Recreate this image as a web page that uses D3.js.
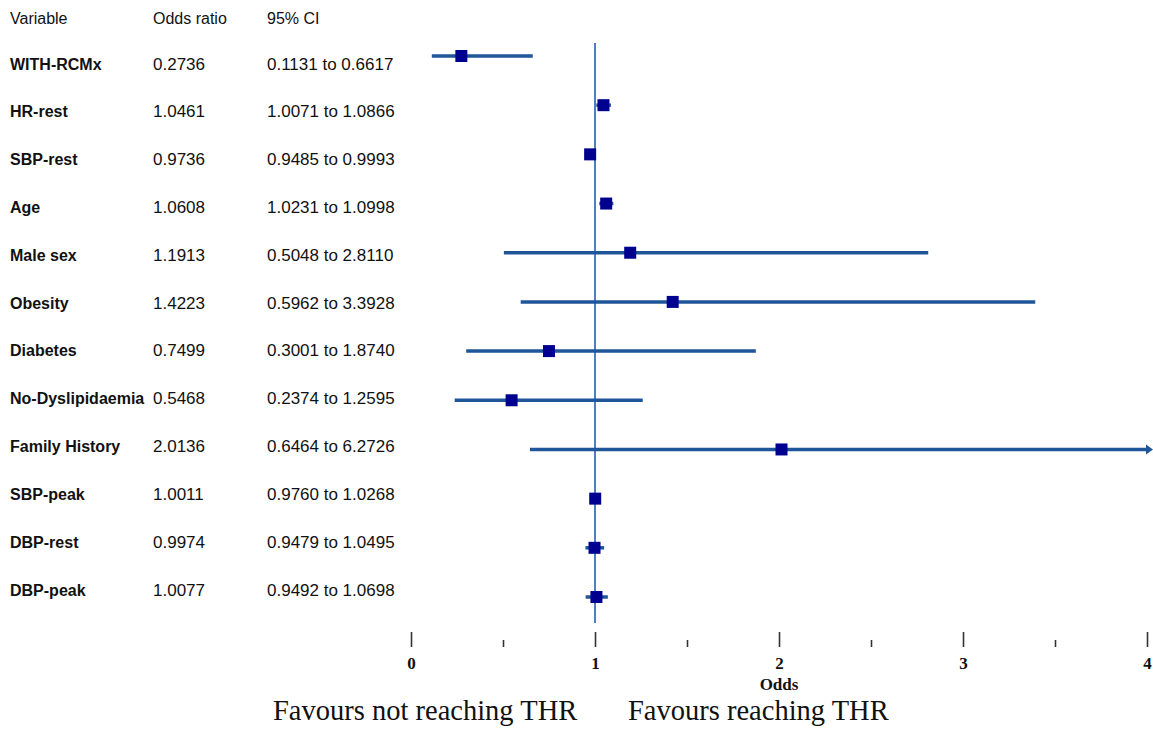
<!DOCTYPE html>
<html>
<head>
<meta charset="utf-8">
<script src="https://cdn.jsdelivr.net/npm/d3@7"></script>
<style>
  html, body { margin: 0; padding: 0; background: #fff; }
  svg { display: block; }
</style>
</head>
<body>
<svg id="chart" width="1153" height="738"></svg>
<script>
const variables = ["WITH-RCMx", "HR-rest", "SBP-rest", "Age", "Male sex", "Obesity", "Diabetes",
  "No-Dyslipidaemia", "Family History", "SBP-peak", "DBP-rest", "DBP-peak"];
const oddsRatio = [0.2736, 1.0461, 0.9736, 1.0608, 1.1913, 1.4223, 0.7499, 0.5468, 2.0136, 1.0011, 0.9974, 1.0077];
const ciLow  = [0.1131, 1.0071, 0.9485, 1.0231, 0.5048, 0.5962, 0.3001, 0.2374, 0.6464, 0.9760, 0.9479, 0.9492];
const ciHigh = [0.6617, 1.0866, 0.9993, 1.0998, 2.8110, 3.3928, 1.8740, 1.2595, 6.2726, 1.0268, 1.0495, 1.0698];
const headers = ["Variable", "Odds ratio", "95% CI"];
const majorTicks = [0, 1, 2, 3, 4];
const minorTicks = [0.5, 1.5, 2.5, 3.5];
const axisTitle = "Odds";
const favourLeft = "Favours not reaching THR";
const favourRight = "Favours reaching THR";

const svg = d3.select("#chart");
const fmt = d3.format(".4f");

const x = d3.scaleLinear().domain([0, 4]).range([411, 1147]);
const yMark = d3.scalePoint().domain(variables).range([56, 597]);
const yText = d3.scalePoint().domain(variables).range([64, 590]);

const sans = "'Liberation Sans', Arial, sans-serif";
const serif = "'Liberation Serif', 'DejaVu Serif', serif";
const colX = [10, 153, 267];

// headers
svg.append("g").selectAll("text").data(headers).join("text")
  .attr("x", (d, i) => colX[i]).attr("y", 18)
  .attr("dominant-baseline", "central")
  .attr("font-family", sans).attr("font-size", 16).attr("fill", "#111")
  .text(d => d);

// table rows
const rows = svg.append("g").selectAll("g").data(variables).join("g")
  .attr("transform", d => `translate(0,${yText(d)})`);
rows.append("text").attr("x", colX[0]).attr("dominant-baseline", "central")
  .attr("font-family", sans).attr("font-size", 16).attr("font-weight", "bold").attr("fill", "#111")
  .text(d => d);
rows.append("text").attr("x", colX[1]).attr("dominant-baseline", "central")
  .attr("font-family", sans).attr("font-size", 17).attr("fill", "#111")
  .text((d, i) => fmt(oddsRatio[i]));
rows.append("text").attr("x", colX[2]).attr("dominant-baseline", "central")
  .attr("font-family", sans).attr("font-size", 17).attr("fill", "#111")
  .text((d, i) => `${fmt(ciLow[i])} to ${fmt(ciHigh[i])}`);

// reference line at 1
svg.append("line")
  .attr("x1", x(1)).attr("x2", x(1)).attr("y1", 43).attr("y2", 623)
  .attr("stroke", "#4f7fbf").attr("stroke-width", 2);

// CI lines
const xMax = x.domain()[1];
const ciColor = "#1f5599";
svg.append("g").selectAll("line").data(variables).join("line")
  .attr("x1", (d, i) => x(ciLow[i]))
  .attr("x2", (d, i) => x(Math.min(ciHigh[i], xMax)))
  .attr("y1", d => yMark(d)).attr("y2", d => yMark(d))
  .attr("stroke", ciColor).attr("stroke-width", 3.5);

// arrows for truncated CIs
svg.append("g").selectAll("path")
  .data(variables.filter((d, i) => ciHigh[i] > xMax)).join("path")
  .attr("d", d => {
    const xe = x(xMax), ym = yMark(d);
    return `M${xe - 1},${ym - 5} L${xe + 6},${ym} L${xe - 1},${ym + 5} Z`;
  })
  .attr("fill", ciColor);

// markers
const ms = 12;
svg.append("g").selectAll("rect").data(variables).join("rect")
  .attr("x", (d, i) => x(oddsRatio[i]) - ms / 2)
  .attr("y", d => yMark(d) - ms / 2)
  .attr("width", ms).attr("height", ms)
  .attr("fill", "#000090");

// axis
const axisMajor = d3.axisBottom(x).tickValues(majorTicks).tickSize(15).tickPadding(10)
  .tickFormat(d3.format("d"));
const gA = svg.append("g").attr("transform", "translate(0,632)").call(axisMajor);
gA.select(".domain").remove();
gA.selectAll(".tick line").attr("stroke", "#333").attr("stroke-width", 1.6);
gA.selectAll(".tick text").attr("font-family", serif).attr("font-size", 17)
  .attr("font-weight", "bold").attr("fill", "#111");

const axisMinor = d3.axisBottom(x).tickValues(minorTicks).tickSize(7).tickFormat("");
const gB = svg.append("g").attr("transform", "translate(0,640)").call(axisMinor);
gB.select(".domain").remove();
gB.selectAll(".tick line").attr("stroke", "#333").attr("stroke-width", 1.6);

// axis title
svg.append("text").attr("x", x(2)).attr("y", 684)
  .attr("text-anchor", "middle").attr("dominant-baseline", "central")
  .attr("font-family", serif).attr("font-size", 17).attr("font-weight", "bold").attr("fill", "#111")
  .text(axisTitle);

// favours labels
svg.append("text").attr("x", 273).attr("y", 720)
  .attr("font-family", serif).attr("font-size", 28.5).attr("fill", "#111")
  .text(favourLeft);
svg.append("text").attr("x", 628).attr("y", 720)
  .attr("font-family", serif).attr("font-size", 28.5).attr("fill", "#111")
  .text(favourRight);
</script>
</body>
</html>
